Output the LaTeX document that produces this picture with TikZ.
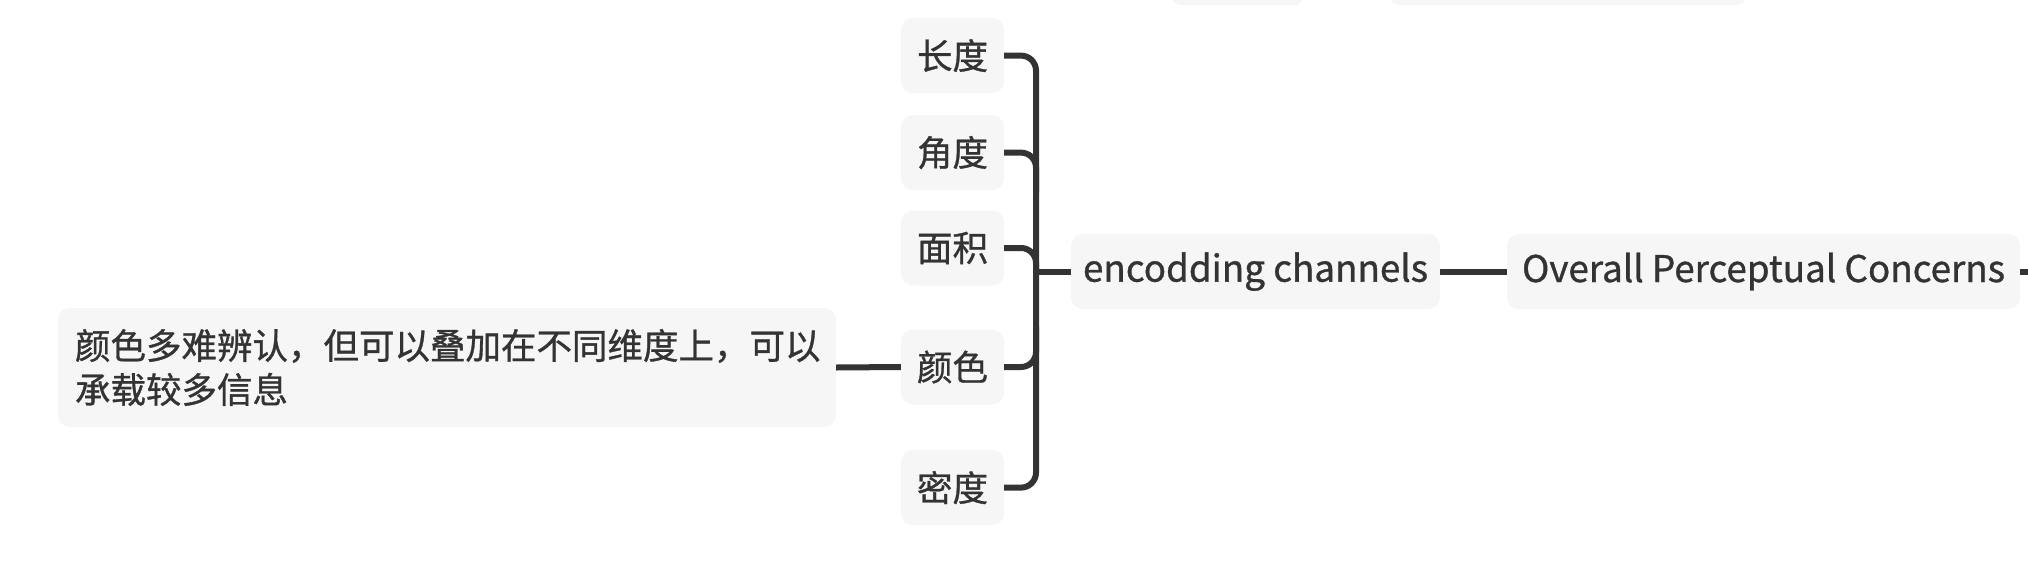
\documentclass[tikz,border=0pt]{standalone}
\usepackage{fontspec}
\setmainfont{Noto Sans CJK SC}[BoldFont=Noto Sans CJK SC, BoldFeatures={FakeBold=0.9}]
\usetikzlibrary{calc}
\definecolor{nodebg}{HTML}{F6F6F6}
\definecolor{ink}{HTML}{333333}
\tikzset{
  box/.style={fill=nodebg, draw=none, rounded corners=12pt, text=ink, font=\fontsize{35.5}{44}\selectfont\bfseries, inner sep=0pt, anchor=center},
  small/.style={box, minimum width=103pt, minimum height=75pt},
  wide/.style={box, minimum height=75pt, font=\fontsize{36.8}{44}\selectfont\bfseries},
  link/.style={draw=ink, line width=6pt},
}
\begin{document}
\begin{tikzpicture}[x=1pt,y=-1pt]
\useasboundingbox (0,0) rectangle (2028,568);
\fill[white] (0,0) rectangle (2028,568);
% partial boxes cut by the top edge
\begin{scope}
\clip (0,0) rectangle (2028,568);
\fill[nodebg, rounded corners=10pt] (1171,-40) rectangle (1304,5);
\fill[nodebg, rounded corners=10pt] (1390,-40) rectangle (1746,5);
\end{scope}
\node[small] (n1) at (952.5,55.6) {长度};
\node[small] (n2) at (952.5,152.6) {角度};
\node[small] (n3) at (952.5,248) {面积};
\node[small] (n4) at (952.5,367) {颜色};
\node[small] (n5) at (952.5,487.6) {密度};
\node[wide, minimum width=369pt] (enc) at (1255.5,271.6) {\raisebox{-3pt}{encodding channels}};
\node[wide, minimum width=513pt] (ov) at (1763.5,271.6) {\raisebox{-3pt}{Overall Perceptual Concerns}};
\node[box, minimum width=778pt, minimum height=119pt, text width=744pt, align=left] (note) at (447,367.5) {颜色多难辨认，但可以叠加在不同维度上，可以\\承载较多信息};
\coordinate (sp) at (1036,271.6);
\coordinate (edge) at (2034,271.6);
\draw[link, rounded corners=15pt] (n1.east) -| (sp) |- (n5.east);
\draw[link, rounded corners=15pt] (n2.east) -| ($(n2.east -| sp)+(0,40)$);
\draw[link, rounded corners=15pt] (n3.east) -| ($(n3.east -| sp)+(0,23)$);
\draw[link, rounded corners=15pt] (n4.east) -| ($(n4.east -| sp)+(0,-40)$);
\draw[link] (sp) -- (enc.west);
\draw[link] (enc.east) -- (ov.west);
\draw[link] (ov.east) -- (edge);
\draw[link] (note.east) -- (n4.west);
\end{tikzpicture}
\end{document}
